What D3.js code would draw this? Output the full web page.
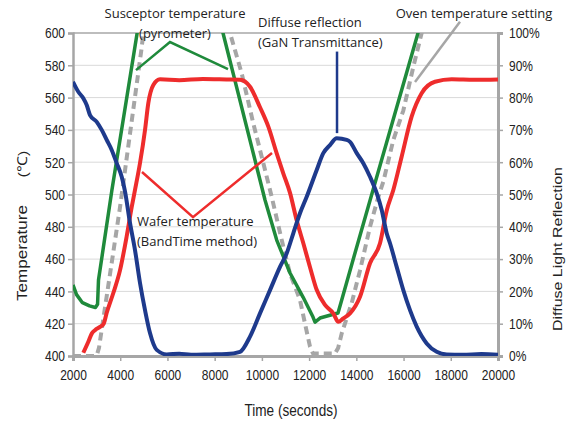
<!DOCTYPE html>
<html>
<head>
<meta charset="utf-8">
<script src="https://cdn.jsdelivr.net/npm/d3@7"></script>
<style>
  body { margin: 0; background: #fff; }
  .tick text { font-family: "Liberation Sans", Arial, sans-serif; font-size: 15px; fill: #222; }
  .note { font-family: "Open Sans", "Noto Sans", sans-serif; font-size: 13px; fill: #222; }
  .ttl { font-family: "Liberation Sans", Arial, sans-serif; fill: #222; }
</style>
</head>
<body>
<svg width="568" height="423"></svg>
<script>
// time axis (s)
var timeTicks = [2000, 4000, 6000, 8000, 10000, 12000, 14000, 16000, 18000, 20000];
var tempTicks = [400, 420, 440, 460, 480, 500, 520, 540, 560, 580, 600];
var pctTicks = [0, .1, .2, .3, .4, .5, .6, .7, .8, .9, 1];

// susceptor temperature (pyrometer), degC
var susceptorT = [2000, 2150, 2400, 2700, 2950, 3040, 3080, 3650, 4750, 5200, 8000, 8353, 10132, 10628, 11191, 11742, 12165, 12250, 12462, 13224, 13381, 13944, 14706, 16612, 17000];
var susceptorV = [444, 438, 433, 431, 430, 432, 447, 503, 603, 640, 640, 600, 496.6, 471.8, 451.4, 436.5, 424.1, 421, 423.5, 426.6, 434.7, 463.8, 502.8, 600, 625];

// oven temperature setting, degC
var ovenT = [2000, 2950, 3020, 3100, 3990, 4900, 5100, 8400, 8650, 9145, 9637, 10060, 10415, 10840, 11191, 11615, 11826, 12038, 12165, 13097, 13230, 13381, 13804, 14156, 14579, 14932, 15143, 15566, 15990, 16413, 16767, 17000];
var ovenV = [400, 400, 401, 405, 492, 590, 615, 615, 600, 575, 544, 519.5, 498.6, 471.8, 451, 434.7, 420, 405.8, 401.5, 401.5, 405, 414, 432.8, 453, 480, 498.6, 508, 533.7, 552, 579, 600, 615];

// wafer temperature (BandTime method), degC
var waferT = [2437, 2649, 2800, 2932, 3143, 3300, 3425, 3707, 3990, 4272, 4484, 4626, 4838, 5050, 5190, 5402, 5685, 6500, 7500, 8500, 9073, 9497, 9920, 10273, 10627, 10909, 11191, 11473, 11755, 12038, 12320, 12673, 13025, 13237, 13449, 13732, 14156, 14579, 15003, 15285, 15566, 15919, 16342, 16766, 17330, 18042, 19000, 20000];
var waferV = [402, 408.8, 414, 416, 418, 420, 426.6, 439, 453, 474, 492, 502.8, 519.5, 540, 556.6, 567.8, 571.3, 570.8, 571.5, 571.2, 571, 566.7, 554, 542, 525.5, 513, 501, 484, 469.8, 455, 441, 431.6, 426.4, 421.2, 423.3, 426.4, 436.7, 457.4, 469.8, 490, 502.8, 523.4, 548.2, 562.7, 569.8, 571.3, 571, 571.2];

// diffuse reflection (GaN transmittance), fraction
var diffuseT = [2000, 2224, 2436, 2580, 2720, 3004, 3216, 3427, 3639, 3851, 4063, 4202, 4414, 4626, 4838, 5050, 5261, 5545, 5969, 6500, 7000, 7802, 8500, 9073, 9497, 9920, 10344, 10767, 11051, 11330, 11614, 11898, 12322, 12601, 12885, 13168, 13592, 13732, 14016, 14295, 14579, 14863, 15075, 15286, 15426, 15709, 15989, 16273, 16557, 16980, 17404, 17827, 18500, 19300, 20000];
var diffuseV = [.849, .818, .798, .777, .746, .725, .70, .669, .638, .597, .555, .51, .412, .328, .226, .142, .071, .019, .005, .007, .004, .005, .006, .013, .06, .132, .204, .276, .318, .38, .442, .493, .576, .628, .653, .674, .669, .663, .628, .597, .555, .504, .452, .38, .349, .276, .204, .142, .091, .039, .013, .005, .004, .006, .004];

var svg = d3.select("svg");
var x = d3.scaleLinear().domain([2000, 20000]).range([73, 498]);
var yT = d3.scaleLinear().domain([400, 600]).range([356, 33]);
var yP = d3.scaleLinear().domain([0, 1]).range([356, 33]);

svg.append("defs").append("clipPath").attr("id", "plot")
  .append("rect").attr("x", 73).attr("y", 33).attr("width", 425).attr("height", 323);

// grid
svg.append("g").selectAll("line").data(tempTicks.slice(1)).enter().append("line")
  .attr("x1", 73).attr("x2", 498)
  .attr("y1", d => yT(d)).attr("y2", d => yT(d))
  .style("stroke", d => d == 600 ? "#bdbdbd" : "#d9d9d9").style("stroke-width", d => d == 600 ? 2 : 1);

// axes
var gx = svg.append("g").attr("transform", "translate(0,356)")
  .call(d3.axisBottom(x).tickValues(timeTicks).tickSize(5).tickPadding(8).tickFormat(d3.format("d")));
var gl = svg.append("g").attr("transform", "translate(73,0)")
  .call(d3.axisLeft(yT).tickValues(tempTicks).tickSize(5).tickPadding(3));
var gr = svg.append("g").attr("transform", "translate(498,0)")
  .call(d3.axisRight(yP).tickValues(pctTicks).tickSize(5).tickPadding(6).tickFormat(d3.format(".0%")));
var sq = 0.8; // the source picture is squeezed sideways
[gx, gl, gr].forEach(g => {
  g.selectAll(".tick line").style("stroke", "#a6a6a6").style("stroke-width", 1.5);
  g.select(".domain").style("stroke", "#a6a6a6").style("stroke-width", 3);
  g.selectAll(".tick text").each(function () {
    var t = d3.select(this), x0 = +t.attr("x") || 0;
    t.attr("x", x0 / sq).attr("transform", "scale(" + sq + ",1)");
  });
});
gl.select(".domain").style("stroke-width", 2.5);

// curves
var plot = svg.append("g").attr("clip-path", "url(#plot)");
function draw(ts, vs, yScale, color, w, dash, curve) {
  var pts = ts.map((t, i) => [t, vs[i]]);
  plot.append("path").datum(pts)
    .attr("d", d3.line().x(d => x(d[0])).y(d => yScale(d[1])).curve(curve))
    .style("fill", "none").style("stroke", color).style("stroke-width", w)
    .style("stroke-dasharray", dash).style("stroke-linejoin", "round");
}
draw(ovenT, ovenV, yT, "#a6a6a6", 4, "8,5", d3.curveLinear);
draw(susceptorT, susceptorV, yT, "#1f8a3b", 3.5, null, d3.curveLinear);
draw(waferT, waferV, yT, "#ee2c2c", 4, null, d3.curveMonotoneX);
draw(diffuseT, diffuseV, yP, "#1e3a8c", 4, null, d3.curveMonotoneX);

// callouts
function callout(pts, color, w) {
  svg.append("path").datum(pts)
    .attr("d", d3.line().x(d => x(d[0])).y(d => yT(d[1])))
    .style("fill", "none").style("stroke", color).style("stroke-width", w);
}
callout([[4668, 577], [6108, 594.4], [8565, 577.7]], "#1f8a3b", 2.5);
callout([[4922, 513.9], [7082, 486], [10428, 525.7]], "#ee2c2c", 2.5);
callout([[13182, 588.5], [13182, 538]], "#1e3a8c", 2.5);
callout([[18391, 607], [16485, 569.7]], "#a6a6a6", 2.5);

function note(lines, tx, ty, anchor) {
  var t = svg.append("text").attr("class", "note").attr("text-anchor", anchor);
  lines.forEach((s, i) => t.append("tspan").attr("x", tx).attr("y", ty + i * 20).text(s));
}
note(["Susceptor temperature", "(pyrometer)"], 175, 18, "middle");
note(["Diffuse reflection", "(GaN Transmittance)"], 258, 27, "start");
note(["Oven temperature setting"], 474, 18, "middle");
note(["Wafer temperature", "(BandTime method)"], 137, 226, "start");

// axis titles
svg.append("text").attr("class", "ttl").attr("transform", "translate(291,416) scale(0.8,1)").attr("text-anchor", "middle")
  .style("font-size", "17px").text("Time (seconds)");
svg.append("text").attr("class", "ttl").attr("transform", "translate(27,253) rotate(-90) scale(0.95,0.85)").attr("text-anchor", "middle")
  .style("font-size", "18px").text("Temperature");
svg.append("text").attr("class", "ttl").attr("transform", "translate(27,164) rotate(-90) scale(1,0.85)").attr("text-anchor", "middle")
  .style("font-size", "16px").text("(\u2103)");
svg.append("text").attr("class", "ttl").attr("transform", "translate(562,249) rotate(-90) scale(1,0.8)").attr("text-anchor", "middle")
  .style("font-size", "16px").text("Diffuse Light Reflection");
</script>
</body>
</html>
